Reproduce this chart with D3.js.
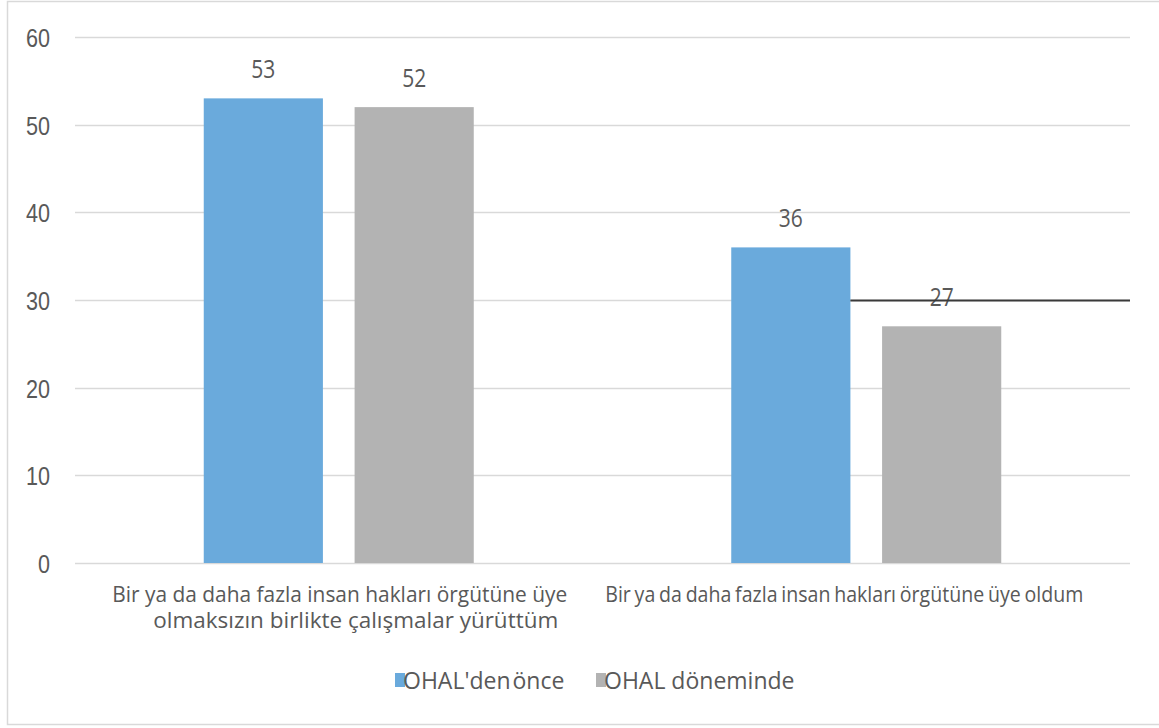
<!DOCTYPE html>
<html>
<head>
<meta charset="utf-8">
<script src="https://cdn.jsdelivr.net/npm/d3@7"></script>
<style>
  html, body { margin: 0; padding: 0; background: #fff; }
  svg { display: block; font-family: "Open Sans", "Noto Sans", sans-serif; }
  text { fill: #595959; }
</style>
</head>
<body>
<svg id="chart" width="1159" height="728"></svg>
<script>
const categories = [
  ["Bir ya da daha fazla insan hakları örgütüne üye", "olmaksızın birlikte çalışmalar yürüttüm"],
  ["Bir ya da daha fazla insan hakları örgütüne üye oldum"]
];
const seriesNames = ["OHAL'den önce", "OHAL döneminde"];
const seriesColors = ["#6aaadc", "#b3b3b3"];
const before = [53, 36];
const during = [52, 27];
const yTicks = [0, 10, 20, 30, 40, 50, 60];

// layout
const width = 1159, height = 728;
const margin = { top: 37, right: 29, bottom: 165, left: 75 };
const digitWidth = 12;
const catLineWidths = [[455, 405], [478]];
const catLineShift = [[1, 17], [-22]];
const catWordSpacing = [0, -1.5];
const legendX = [395, 596];

const svg = d3.select("#chart");

// outer frame
svg.append("rect")
  .attr("x", 7.5).attr("y", 1.5)
  .attr("width", width + 10).attr("height", 723)
  .attr("fill", "none").attr("stroke", "#d9d9d9").attr("stroke-width", 1.5);

const x0 = d3.scaleBand()
  .domain(d3.range(categories.length))
  .range([margin.left, width - margin.right]);

const x1 = d3.scaleBand()
  .domain([0, 1])
  .range([0, 270])
  .paddingInner(0.21);

const y = d3.scaleLinear()
  .domain([0, 60])
  .range([height - margin.bottom, margin.top]);

// grid
svg.append("g")
  .selectAll("line")
  .data(yTicks)
  .join("line")
  .attr("x1", margin.left).attr("x2", width - margin.right)
  .attr("y1", (d) => Math.round(y(d)) + 0.5)
  .attr("y2", (d) => Math.round(y(d)) + 0.5)
  .attr("stroke", "#d9d9d9").attr("stroke-width", 1.5);

// y axis labels
const yAxis = svg.append("g")
  .attr("transform", `translate(${margin.left},0)`)
  .call(d3.axisLeft(y).tickValues(yTicks).tickSize(0).tickPadding(25));
yAxis.select(".domain").remove();
yAxis.selectAll("text")
  .attr("font-size", 26)
  .attr("font-family", null)
  .attr("dy", "0.36em")
  .attr("fill", "#595959")
  .attr("textLength", (d) => String(d).length * digitWidth)
  .attr("lengthAdjust", "spacingAndGlyphs");

const rows = categories.map((c, i) => ({ i, values: [before[i], during[i]] }));
const groupOffset = (i) => x0(i) + (x0.bandwidth() - 270) / 2;

const groups = svg.append("g")
  .selectAll("g")
  .data(rows)
  .join("g")
  .attr("transform", (d) => `translate(${groupOffset(d.i)},0)`);

groups.selectAll("rect")
  .data((d) => d.values.map((v, s) => ({ v, s })))
  .join("rect")
  .attr("x", (d) => x1(d.s))
  .attr("width", x1.bandwidth())
  .attr("y", (d) => y(d.v))
  .attr("height", (d) => y(0) - y(d.v))
  .attr("fill", (d) => seriesColors[d.s]);

groups.selectAll("text.label")
  .data((d) => d.values.map((v, s) => ({ v, s })))
  .join("text")
  .attr("class", "label")
  .attr("x", (d) => x1(d.s) + x1.bandwidth() / 2)
  .attr("y", (d) => y(d.v) - 20)
  .attr("text-anchor", "middle")
  .attr("font-size", 26)
  .attr("textLength", (d) => String(d.v).length * digitWidth)
  .attr("lengthAdjust", "spacingAndGlyphs")
  .text((d) => d.v);

// stray line at 30 in the second group (present in source image)
svg.append("line")
  .attr("x1", groupOffset(1) + x1(0) + x1.bandwidth())
  .attr("x2", width - margin.right)
  .attr("y1", Math.round(y(30)) + 0.5)
  .attr("y2", Math.round(y(30)) + 0.5)
  .attr("stroke", "#3a3a3a").attr("stroke-width", 2);

// category labels
const cats = svg.append("g")
  .selectAll("g")
  .data(categories)
  .join("g")
  .attr("transform", (d, i) => `translate(${x0(i) + x0.bandwidth() / 2},602)`);

cats.selectAll("text")
  .data((d, i) => d.map((line, j) => ({ line, i, j })))
  .join("text")
  .attr("x", (d) => catLineShift[d.i][d.j])
  .attr("y", (d) => d.j * 26)
  .attr("text-anchor", "middle")
  .attr("font-size", 22.5)
  .attr("word-spacing", (d) => catWordSpacing[d.i])
  .attr("textLength", (d) => catLineWidths[d.i][d.j])
  .attr("lengthAdjust", "spacingAndGlyphs")
  .text((d) => d.line);

// legend
const legend = svg.append("g")
  .selectAll("g")
  .data(seriesNames)
  .join("g")
  .attr("transform", (d, i) => `translate(${legendX[i]},673)`);
legend.append("rect")
  .attr("width", 10).attr("height", 14)
  .attr("fill", (d, i) => seriesColors[i]);
legend.append("text")
  .attr("x", 8).attr("y", 16)
  .attr("font-size", 23)
  .attr("word-spacing", (d, i) => (i === 0 ? -4 : 0))
  .text((d) => d);
</script>
</body>
</html>
